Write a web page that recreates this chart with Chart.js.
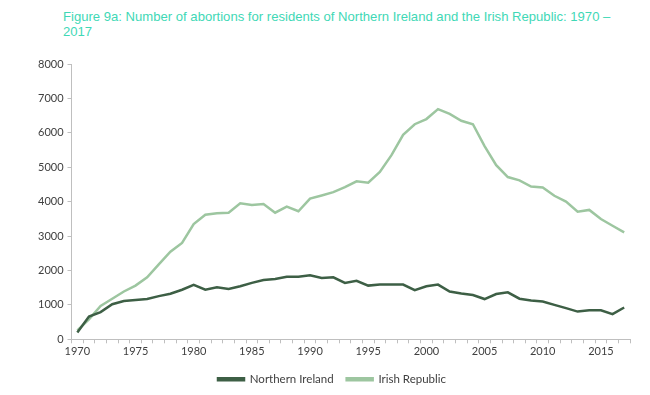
<!DOCTYPE html>
<html>
<head>
<meta charset="utf-8">
<script src="https://cdn.jsdelivr.net/npm/chart.js@4"></script>
<style>
  html, body { margin: 0; padding: 0; background: #ffffff; }
  #wrap { position: relative; width: 650px; height: 395px; }
  #title { position: absolute; left: 63px; top: 10px; width: 580px; font-family: "Liberation Sans", Arial, sans-serif; font-size: 13.1px; line-height: 14.5px; color: #3fd8b6; }
  canvas { position: absolute; left: 0; top: 0; }
</style>
</head>
<body>
<div id="wrap">
  <div id="title">Figure 9a: Number of abortions for residents of Northern Ireland and the Irish Republic: 1970 –<br>2017</div>
  <canvas id="c" width="650" height="395"></canvas>
</div>
<script>
const years = [];
for (let y = 1970; y <= 2017; y++) years.push(String(y));

const northernIreland = [200, 660, 790, 1020, 1110, 1140, 1170, 1255, 1325, 1440,
  1580, 1440, 1510, 1460, 1540, 1640, 1720, 1750, 1820, 1820,
  1860, 1780, 1800, 1640, 1700, 1560, 1590, 1590, 1590, 1430,
  1540, 1590, 1390, 1330, 1285, 1170, 1315, 1365, 1180, 1130,
  1100, 1000, 905, 805, 845, 845, 730, 925];

const irishRepublic = [260, 580, 970, 1180, 1390, 1560, 1800, 2175, 2545, 2800,
  3350, 3620, 3660, 3680, 3950, 3900, 3930, 3680, 3855, 3720,
  4090, 4180, 4275, 4420, 4590, 4550, 4865, 5350, 5940, 6250,
  6400, 6690, 6550, 6350, 6250, 5615, 5060, 4715, 4620, 4440,
  4410, 4170, 4000, 3710, 3760, 3495, 3300, 3105];

const yTicks = [0, 1000, 2000, 3000, 4000, 5000, 6000, 7000, 8000];

const tickFont = { family: "Lato, 'Liberation Sans', sans-serif", size: 11 };

new Chart(document.getElementById('c'), {
  type: 'line',
  data: {
    labels: years,
    datasets: [
      { label: 'Northern Ireland', data: northernIreland, borderColor: '#3d5f45', backgroundColor: '#3d5f45', borderWidth: 2.5, pointRadius: 0, tension: 0 },
      { label: 'Irish Republic', data: irishRepublic, borderColor: '#9dc6a0', backgroundColor: '#9dc6a0', borderWidth: 2.5, pointRadius: 0, tension: 0 }
    ]
  },
  options: {
    responsive: false,
    animation: false,
    devicePixelRatio: 1,
    layout: { padding: { top: 64, left: 34, right: 20, bottom: 0 } },
    plugins: {
      title: { display: false },
      tooltip: { enabled: false },
      legend: {
        position: 'bottom',
        labels: {
          boxWidth: 26, boxHeight: 2, color: '#404040',
          font: { family: "Lato, 'Liberation Sans', sans-serif", size: 11.5 },
          padding: 13
        }
      }
    },
    scales: {
      x: {
        type: 'category',
        offset: true,
        grid: { display: true, offset: true, drawOnChartArea: false, drawTicks: true, tickLength: 4, color: '#bfbfbf' },
        border: { display: true, color: '#bfbfbf' },
        ticks: {
          autoSkip: false, maxRotation: 0, color: '#404040', font: tickFont, padding: 2,
          callback: function(v, i) { const y = +years[i]; return y % 5 === 0 ? years[i] : ''; }
        }
      },
      y: {
        min: 0, max: 8000,
        afterBuildTicks: function(axis) { axis.ticks = yTicks.map(v => ({ value: v })); },
        grid: { display: true, drawOnChartArea: false, drawTicks: true, tickLength: 4, color: '#bfbfbf' },
        border: { display: true, color: '#bfbfbf' },
        ticks: { color: '#404040', font: tickFont, padding: 4, callback: function(v) { return String(v); } }
      }
    }
  }
});
</script>
</body>
</html>
